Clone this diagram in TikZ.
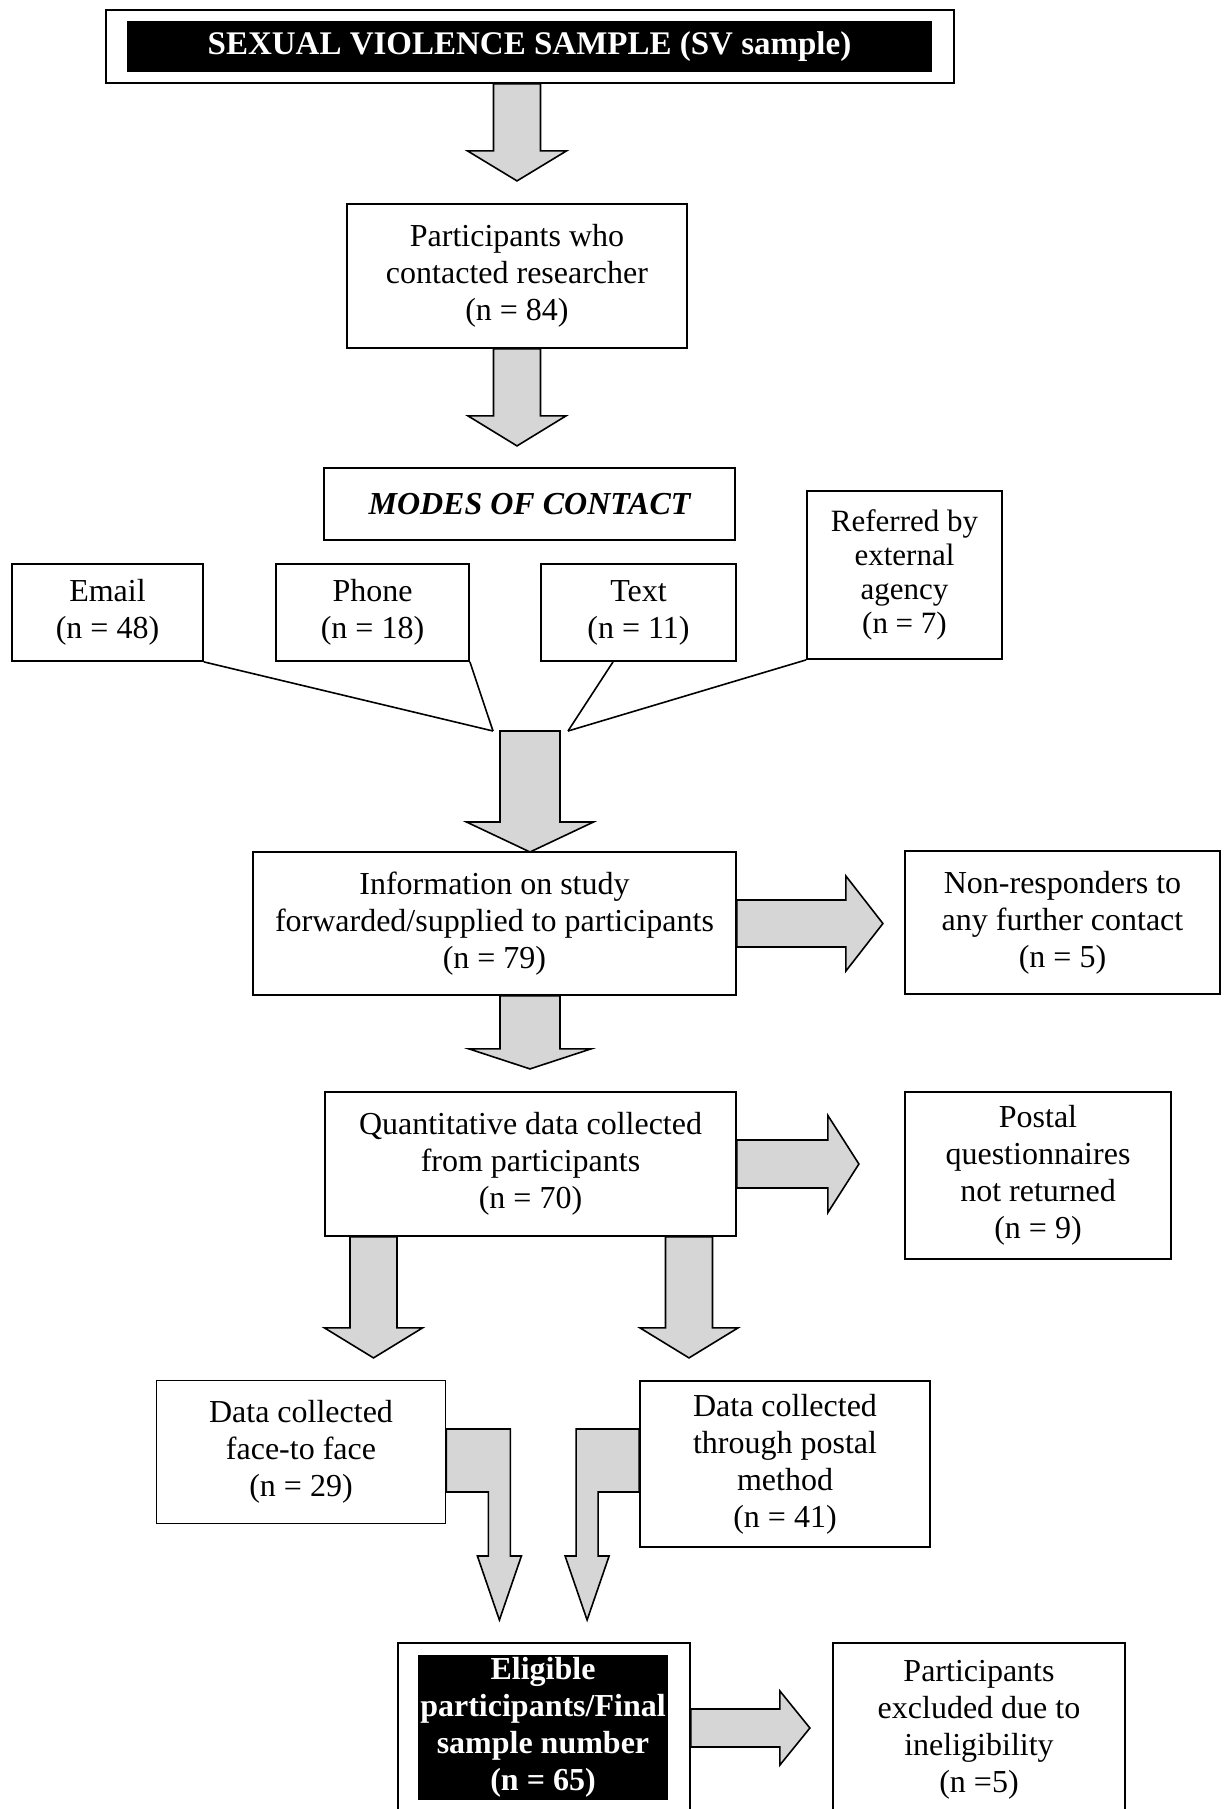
\documentclass[tikz,border=0pt]{standalone}
\usepackage{fontspec}
\setmainfont{Liberation Serif}
\usetikzlibrary{calc}
\tikzset{
  box/.style={draw,line width=1.8pt,align=center,inner sep=0pt,font=\fontsize{32}{37}\selectfont},
  blackbox/.style={fill=black,text=white,align=center,inner sep=0pt,font=\bfseries\fontsize{33}{38}\selectfont},
  blockarrow/.style={draw,line width=1.6pt,fill=black!16,line join=miter},
  feeder/.style={draw,line width=1.6pt,-}
}
\newcommand{\blockdown}[5]{\path[blockarrow] ($(#1)+(-#2,0)$) -- ++(0,#3) -- ++({#2-#4},0) -- ++(#4,#5) -- ++(#4,-#5) -- ++({#2-#4},0) -- ++(0,-#3) -- cycle;}
\newcommand{\blockright}[5]{\path[blockarrow] ($(#1)+(0,-#2)$) -- ++(#3,0) -- ++(0,{#2-#4}) -- ++(#5,#4) -- ++(-#5,#4) -- ++(0,{#2-#4}) -- ++(-#3,0) -- cycle;}
\begin{document}
\begin{tikzpicture}[x=1pt,y=-1pt]
\useasboundingbox (0,0) rectangle (1225,1809);
\clip (0,0) rectangle (1225,1809);

\node[box,minimum width=848,minimum height=73] (svframe) at (530,46.5) {};
\node[blackbox,minimum width=805,minimum height=51] (svtitle) at (529.5,46.5) {SEXUAL VIOLENCE SAMPLE (SV sample)};

\node[box,minimum width=340,minimum height=144] (contacted) at (517,276) {Participants who\\contacted researcher\\(n = 84)};
\node[box,minimum width=411,minimum height=72,font=\bfseries\itshape\fontsize{32}{37}\selectfont] (modes) at (529.5,504) {MODES OF CONTACT};

\node[box,minimum width=191,minimum height=97] (email) at (107.5,612.5) {Email\\(n = 48)};
\node[box,minimum width=193,minimum height=97] (phone) at (372.5,612.5) {Phone\\(n = 18)};
\node[box,minimum width=195,minimum height=97] (txt) at (638.5,612.5) {Text\\(n = 11)};
\node[box,minimum width=195,minimum height=168,font=\fontsize{31}{34}\selectfont] (referred) at (904.5,575) {Referred by\\external\\agency\\(n = 7)};

\coordinate (joinl) at (493,731);
\coordinate (joinr) at (568,731);
\coordinate (join) at (530,731);
\path[feeder] (email.south east) -- (joinl);
\path[feeder] (phone.south east) -- (joinl);
\path[feeder] ([xshift=-25.5pt]txt.south) -- (joinr);
\path[feeder] (referred.south west) -- (joinr);

\node[box,minimum width=483,minimum height=143] (info) at (494.5,923.5) {Information on study\\forwarded/supplied to participants\\(n = 79)};
\node[box,minimum width=315,minimum height=143] (nonresp) at (1062.5,922.5) {Non-responders to\\any further contact\\(n = 5)};
\node[box,minimum width=411,minimum height=144] (quant) at (530.5,1164) {Quantitative data collected\\from participants\\(n = 70)};
\node[box,minimum width=266,minimum height=167] (postalq) at (1038,1175.5) {Postal\\questionnaires\\not returned\\(n = 9)};
\node[box,minimum width=289,minimum height=143] (facetoface) at (301,1452) {Data collected\\face-to face\\(n = 29)};
\node[box,minimum width=290,minimum height=166] (postal) at (785,1464) {Data collected\\through postal\\method\\(n = 41)};
\node[box,minimum width=292,minimum height=174] (eligframe) at (544,1730) {};
\node[blackbox,minimum width=250,minimum height=145,font=\bfseries\fontsize{32}{37}\selectfont] (eligible) at (543,1727.5) {Eligible\\participants/Final\\sample number\\(n = 65)};
\node[box,minimum width=292,minimum height=174] (excluded) at (979,1730) {Participants\\excluded due to\\ineligibility\\(n =5)};

\coordinate (a1) at (contacted.north |- svframe.south);
\coordinate (a4) at (join |- info.south);
\coordinate (a7) at ([xshift=-157pt]quant.south);
\coordinate (a8) at ([xshift=158.5pt]quant.south);
\coordinate (a9) at ([yshift=2pt]eligframe.east);
\blockdown{a1}{23.5}{67}{49.5}{30}
\blockdown{contacted.south}{23.5}{67}{49}{30}
\blockdown{join}{30}{91}{63.5}{30}
\blockdown{a4}{30}{53}{61}{20}
\blockright{info.east}{23.5}{109}{47.5}{37}
\blockright{quant.east}{24}{91}{48.5}{31}
\blockdown{a7}{23.5}{91}{49}{30}
\blockdown{a8}{23.5}{91}{49}{30}
\blockright{a9}{19}{89}{37}{30}
\path[blockarrow] ([yshift=23pt]facetoface.east) -- ++(64,0) -- ++(0,127) -- ++(11,0) -- ++(-22,64) -- ++(-22,-64) -- ++(11,0) -- ++(0,-64) -- ++(-42,0) -- cycle;
\path[blockarrow] ([yshift=35pt]postal.west) -- ++(-63,0) -- ++(0,127) -- ++(-11,0) -- ++(22,64) -- ++(22,-64) -- ++(-11,0) -- ++(0,-64) -- ++(41,0) -- cycle;
\end{tikzpicture}
\end{document}
